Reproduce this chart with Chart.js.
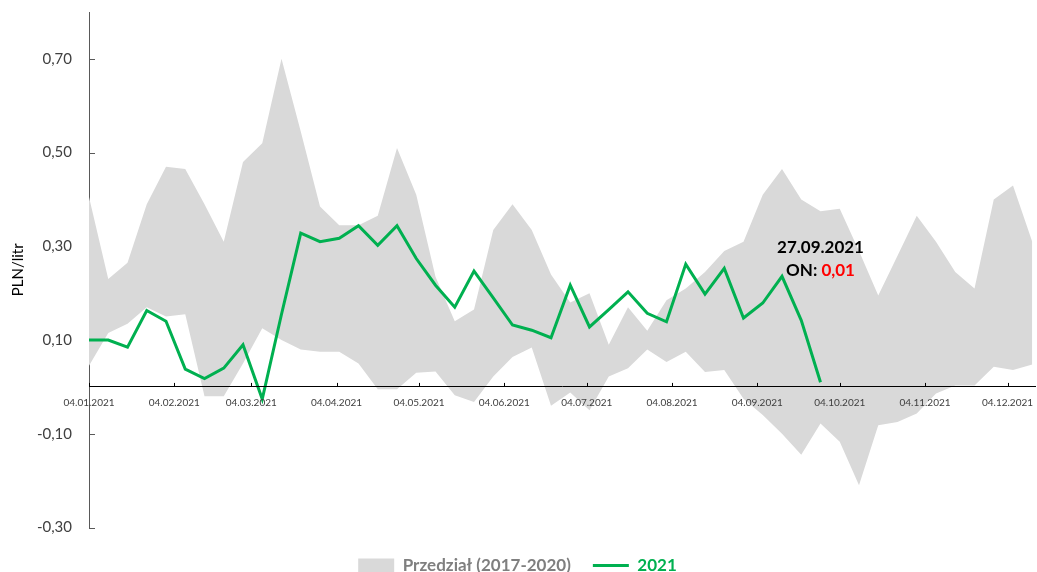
<!DOCTYPE html>
<html lang="pl">
<head>
<meta charset="UTF-8">
<title>PLN/litr 2021</title>
<script src="https://cdn.jsdelivr.net/npm/chart.js"></script>
<style>
  html, body { margin: 0; padding: 0; background: #fff; }
  canvas { display: block; }
</style>
</head>
<body>
<canvas id="chart" width="1037" height="572"></canvas>
<script>
// weekly dates (Mondays)
const weeks = [
  '04.01.2021', '11.01.2021', '18.01.2021', '25.01.2021',
  '01.02.2021', '08.02.2021', '15.02.2021', '22.02.2021',
  '01.03.2021', '08.03.2021', '15.03.2021', '22.03.2021', '29.03.2021',
  '05.04.2021', '12.04.2021', '19.04.2021', '26.04.2021',
  '03.05.2021', '10.05.2021', '17.05.2021', '24.05.2021', '31.05.2021',
  '07.06.2021', '14.06.2021', '21.06.2021', '28.06.2021',
  '05.07.2021', '12.07.2021', '19.07.2021', '26.07.2021',
  '02.08.2021', '09.08.2021', '16.08.2021', '23.08.2021', '30.08.2021',
  '06.09.2021', '13.09.2021', '20.09.2021', '27.09.2021',
  '04.10.2021', '11.10.2021', '18.10.2021', '25.10.2021',
  '01.11.2021', '08.11.2021', '15.11.2021', '22.11.2021', '29.11.2021',
  '06.12.2021', '13.12.2021'
];

// range 2017-2020 (max / min)
const bandUpper = [
  0.405, 0.23, 0.265, 0.39, 0.47, 0.465, 0.39, 0.31, 0.48, 0.52,
  0.70, 0.545, 0.385, 0.345, 0.345, 0.365, 0.51, 0.41, 0.235, 0.14,
  0.165, 0.335, 0.39, 0.335, 0.24, 0.18, 0.20, 0.09, 0.17, 0.12,
  0.185, 0.21, 0.245, 0.29, 0.31, 0.41, 0.465, 0.40, 0.375, 0.38,
  0.29, 0.195, 0.28, 0.365, 0.31, 0.245, 0.21, 0.40, 0.43, 0.31
];
const bandLower = [
  0.045, 0.115, 0.135, 0.17, 0.15, 0.155, -0.02, -0.02, 0.05, 0.125,
  0.10, 0.08, 0.075, 0.075, 0.05, -0.005, -0.005, 0.03, 0.033, -0.018,
  -0.032, 0.022, 0.064, 0.084, -0.04, -0.012, -0.05, 0.022, 0.04, 0.08,
  0.053, 0.075, 0.032, 0.036, -0.025, -0.06, -0.10, -0.145, -0.078, -0.117,
  -0.21, -0.082, -0.075, -0.057, -0.014, 0.003, 0.003, 0.043, 0.036, 0.048
];

// 2021
const series2021 = [
  0.10, 0.10, 0.085, 0.163, 0.14, 0.038, 0.018, 0.04, 0.09, -0.026,
  0.155, 0.328, 0.31, 0.317, 0.344, 0.302, 0.344, 0.274, 0.217, 0.17,
  0.247, 0.19, 0.132, 0.121, 0.105, 0.217, 0.128, 0.165, 0.203, 0.157,
  0.139, 0.262, 0.198, 0.253, 0.147, 0.179, 0.236, 0.142, 0.01
];

const xTickLabels = [
  '04.01.2021', '04.02.2021', '04.03.2021', '04.04.2021', '04.05.2021', '04.06.2021',
  '04.07.2021', '04.08.2021', '04.09.2021', '04.10.2021', '04.11.2021', '04.12.2021'
];
const yTicks = [-0.3, -0.1, 0.1, 0.3, 0.5, 0.7];

const noteDate = '27.09.2021';
const noteLabel = 'ON: ';
const noteValue = series2021[series2021.length - 1];

const FONT = 'Lato, "Open Sans", sans-serif';
const GREEN = '#00B050';
const GREY = '#D9D9D9';

// days since 04.01.2021
function dayOf(s) {
  const [d, m, y] = s.split('.').map(Number);
  return (Date.UTC(y, m - 1, d) - Date.UTC(2021, 0, 4)) / 86400000;
}
function fmt(v, n) {
  return v.toFixed(n).replace('.', ',');
}
const xTickDays = xTickLabels.map(dayOf);

// small tick marks pointing into the plot
const tickMarks = {
  id: 'tickMarks',
  beforeDatasetsDraw(chart) {
    const { ctx, scales: { x, y } } = chart;
    ctx.save();
    ctx.lineWidth = 1;
    ctx.strokeStyle = '#595959';
    ctx.beginPath();
    yTicks.forEach(v => {
      const py = Math.round(y.getPixelForValue(v)) + 0.5;
      ctx.moveTo(x.left, py);
      ctx.lineTo(x.left + 6, py);
    });
    ctx.stroke();
    ctx.restore();
  },
  afterDatasetsDraw(chart) {
    const { ctx, scales: { x, y } } = chart;
    const y0 = y.getPixelForValue(0);
    ctx.save();
    ctx.lineWidth = 1;
    ctx.strokeStyle = '#000';
    ctx.beginPath();
    xTickDays.forEach(d => {
      const px = Math.round(x.getPixelForValue(d)) + 0.5;
      ctx.moveTo(px, y0);
      ctx.lineTo(px, y0 - 4);
    });
    ctx.stroke();
    ctx.restore();
  }
};

// label above the last 2021 point
const notePlugin = {
  id: 'note',
  afterDatasetsDraw(chart) {
    const { ctx, scales: { x, y } } = chart;
    const px = x.getPixelForValue(dayOf(noteDate));
    ctx.save();
    ctx.font = 'bold 17px ' + FONT;
    ctx.textBaseline = 'middle';
    ctx.textAlign = 'center';
    ctx.fillStyle = '#000';
    ctx.fillText(noteDate, px, y.getPixelForValue(0.297));
    const val = fmt(noteValue, 2);
    const wa = ctx.measureText(noteLabel).width;
    const wb = ctx.measureText(val).width;
    const left = px - (wa + wb) / 2;
    const py = y.getPixelForValue(0.249);
    ctx.textAlign = 'left';
    ctx.fillText(noteLabel, left, py);
    ctx.fillStyle = '#FF0000';
    ctx.fillText(val, left + wa, py);
    ctx.restore();
  }
};

const ctx = document.getElementById('chart').getContext('2d');
new Chart(ctx, {
  type: 'line',
  data: {
    datasets: [
      {
        label: '2021',
        data: series2021.map((v, i) => ({ x: dayOf(weeks[i]), y: v })),
        borderColor: GREEN,
        backgroundColor: GREEN,
        borderWidth: 3,
        pointRadius: 0,
        pointStyle: 'line',
        tension: 0,
        fill: false
      },
      {
        label: 'Przedział (2017-2020)',
        data: bandUpper.map((v, i) => ({ x: dayOf(weeks[i]), y: v })),
        borderColor: 'transparent',
        backgroundColor: GREY,
        borderWidth: 0,
        pointRadius: 0,
        pointStyle: 'rect',
        tension: 0,
        fill: '+1'
      },
      {
        label: 'min',
        data: bandLower.map((v, i) => ({ x: dayOf(weeks[i]), y: v })),
        borderColor: 'transparent',
        backgroundColor: GREY,
        borderWidth: 0,
        pointRadius: 0,
        tension: 0,
        fill: false
      }
    ]
  },
  options: {
    responsive: false,
    animation: false,
    events: [],
    layout: { padding: { top: 12, right: 2, bottom: -12, left: 0 } },
    scales: {
      x: {
        type: 'linear',
        position: { y: 0 },
        min: 0,
        max: 344,
        afterFit(scale) {
          scale.height = 0;
          scale.paddingLeft = 0;
          scale.paddingRight = 0;
        },
        afterBuildTicks(scale) { scale.ticks = xTickDays.map(v => ({ value: v })); },
        grid: { display: false, drawTicks: false },
        border: { display: true, color: '#000', width: 1, z: 1 },
        ticks: {
          z: 1,
          autoSkip: false,
          maxRotation: 0,
          padding: 10,
          color: '#404040',
          font: { family: FONT, size: 10 },
          callback: v => xTickLabels[xTickDays.indexOf(v)]
        }
      },
      y: {
        position: 'left',
        min: -0.3,
        max: 0.8,
        afterFit(scale) {
          scale.width = 89;
          scale.paddingTop = 0;
          scale.paddingBottom = 0;
        },
        afterBuildTicks(scale) { scale.ticks = yTicks.map(v => ({ value: v })); },
        grid: { display: false, drawTicks: false },
        border: { display: true, color: '#595959', width: 1 },
        ticks: {
          padding: 17,
          color: '#404040',
          font: { family: FONT, size: 15 },
          callback: v => fmt(v, 2)
        },
        title: {
          display: true,
          text: 'PLN/litr',
          color: '#000',
          font: { family: FONT, size: 15 },
          padding: { top: 9, bottom: 0 }
        }
      }
    },
    plugins: {
      tooltip: { enabled: false },
      legend: {
        position: 'bottom',
        // empty title only used as a spacer above the items
        title: { display: true, text: '', font: { size: 5 }, padding: { top: 0, bottom: 1.5 } },
        labels: {
          usePointStyle: true,
          pointStyleWidth: 36,
          boxHeight: 14,
          padding: 22,
          font: { family: FONT, size: 17, weight: 'bold' },
          generateLabels(chart) {
            const items = Chart.defaults.plugins.legend.labels.generateLabels(chart)
              .filter(it => it.text !== 'min');
            items.forEach(it => {
              if (it.text === '2021') {
                it.fontColor = GREEN;
                it.strokeStyle = GREEN;
                it.lineWidth = 3;
              } else {
                it.fontColor = '#7F7F7F';
                it.fillStyle = GREY;
                it.lineWidth = 0;
              }
            });
            return items.reverse();
          }
        }
      }
    }
  },
  plugins: [tickMarks, notePlugin]
});
</script>
</body>
</html>
